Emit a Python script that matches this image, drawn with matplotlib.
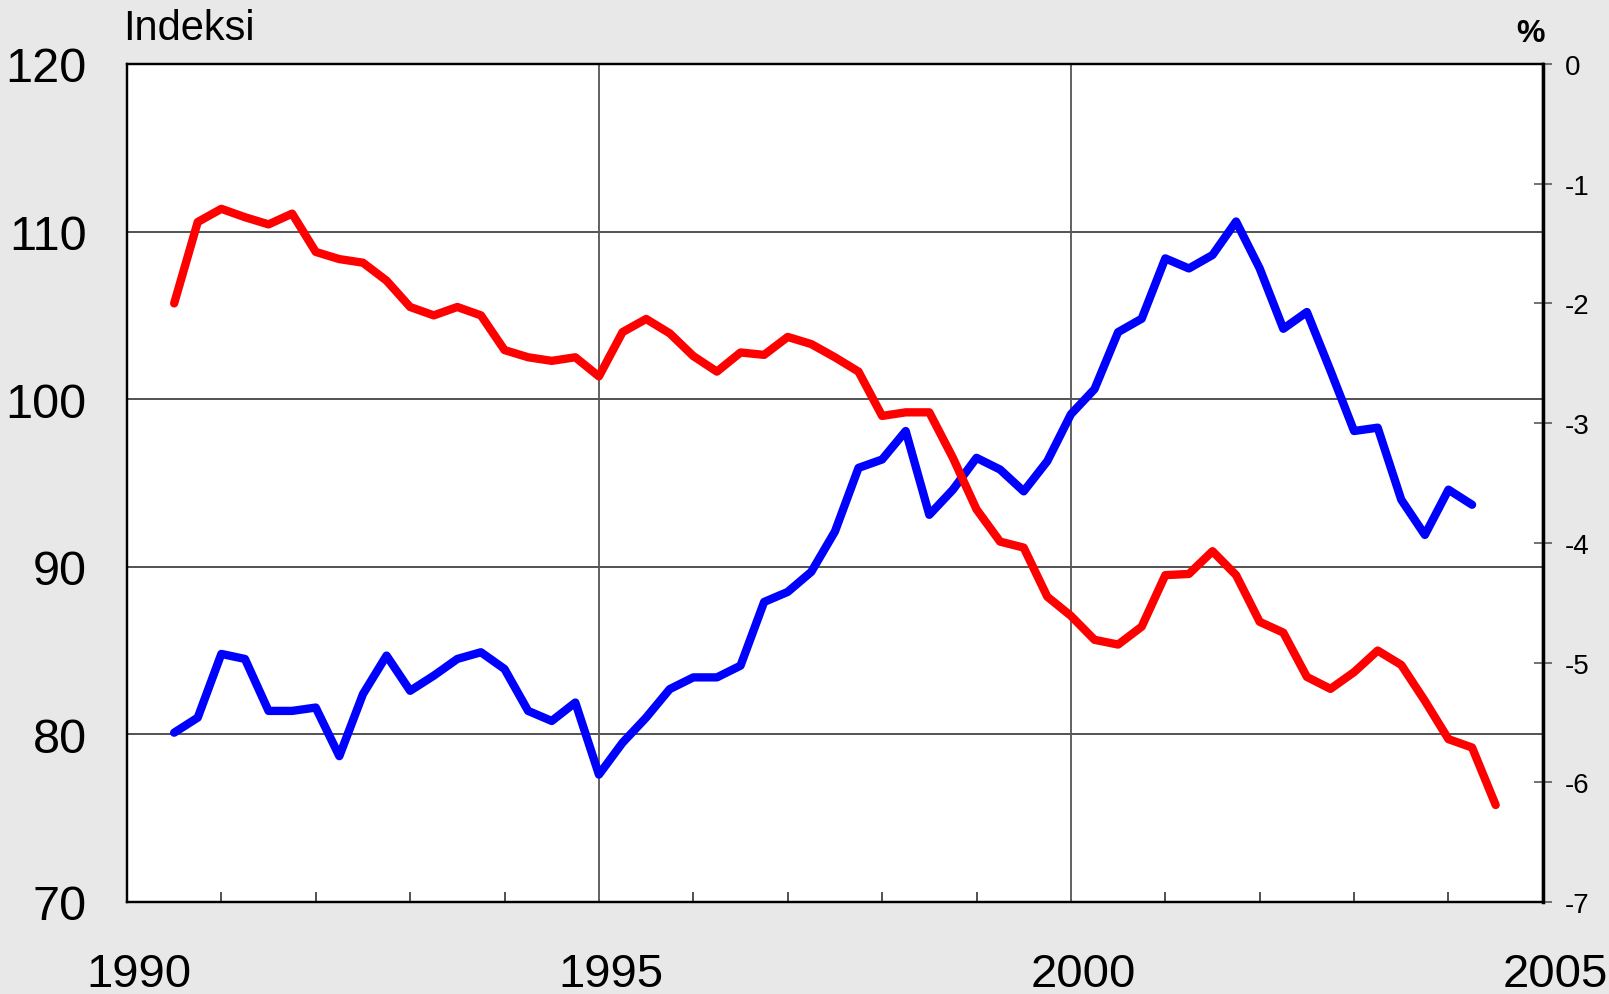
import matplotlib
matplotlib.use("Agg")
from matplotlib import pyplot as plt
from matplotlib.ticker import MultipleLocator
import matplotlib.transforms as mtransforms

# quarterly data, first point is mid 1990
start_year = 1990.5

# blue series, read on the left axis (Indeksi)
index_values = [80.1, 81.0, 84.8, 84.5, 81.4, 81.4, 81.6, 78.7, 82.4, 84.7,
                82.6, 83.5, 84.5, 84.9, 83.9, 81.4, 80.8, 81.9, 77.6, 79.5,
                81.0, 82.7, 83.4, 83.4, 84.1, 87.9, 88.5, 89.7, 92.1, 95.9,
                96.4, 98.1, 93.1, 94.6, 96.5, 95.8, 94.5, 96.3, 99.1, 100.6,
                104.0, 104.8, 108.4, 107.8, 108.6, 110.6, 107.8, 104.2, 105.2, 101.7,
                98.1, 98.3, 94.0, 91.9, 94.6, 93.7]

# red series, read on the right axis (%)
percent_values = [-2.00, -1.32, -1.21, -1.28, -1.34, -1.25, -1.57, -1.63, -1.66, -1.81,
                  -2.03, -2.10, -2.03, -2.10, -2.39, -2.45, -2.48, -2.45, -2.61, -2.24,
                  -2.13, -2.25, -2.44, -2.57, -2.41, -2.43, -2.28, -2.34, -2.45, -2.57,
                  -2.94, -2.91, -2.91, -3.29, -3.72, -3.99, -4.04, -4.45, -4.61, -4.81,
                  -4.85, -4.70, -4.27, -4.26, -4.07, -4.27, -4.66, -4.75, -5.12, -5.22,
                  -5.08, -4.90, -5.02, -5.32, -5.64, -5.71, -6.19]

left_ticks = [70, 80, 90, 100, 110, 120]
right_ticks = [0, -1, -2, -3, -4, -5, -6, -7]
year_ticks = [1990, 1995, 2000, 2005]


def quarters(values):
    return [start_year + 0.25 * i for i in range(len(values))]


plt.rcParams['font.family'] = ['Liberation Sans', 'DejaVu Sans']

fig = plt.figure(figsize=(16.09, 9.95), dpi=100, facecolor='#e8e8e8')
ax = fig.add_axes([0.0789, 0.0925, 0.880, 0.8422])
ax.set_facecolor('white')

ax.set_xlim(1990, 2005)
ax.set_ylim(70, 120)
ax.set_yticks(left_ticks)
ax.set_xticks(year_ticks)
ax.xaxis.set_minor_locator(MultipleLocator(1))

# grid: horizontal from the left scale, vertical at 1995 and 2000
for v in left_ticks[1:-1]:
    ax.axhline(v, color='#444444', lw=1.3, zorder=1)
for y in year_ticks[1:-1]:
    ax.axvline(y, color='#555555', lw=1.3, zorder=1)

ax.tick_params(axis='y', which='both', length=0, pad=29, labelsize=35)
ax.tick_params(axis='x', which='major', length=0, pad=36, labelsize=34)
ax.tick_params(axis='x', which='minor', direction='in', length=7, width=1.2, color='#333333')
offset = mtransforms.ScaledTranslation(12 / 100, 0, fig.dpi_scale_trans)
for lbl in ax.get_xticklabels():
    lbl.set_transform(lbl.get_transform() + offset)

ax.plot(quarters(index_values), index_values, color='#0000ff', lw=6,
        solid_capstyle='round', solid_joinstyle='round', zorder=3)

ax2 = ax.twinx()
ax2.set_ylim(-7, 0)
ax2.set_yticks(right_ticks)
ax2.set_yticklabels([str(t) for t in right_ticks])
ax2.tick_params(axis='y', direction='inout', length=13, width=1.3, color='#666666',
                pad=9, labelsize=20)
ax2.plot(quarters(percent_values), percent_values, color='#ff0000', lw=6,
         solid_capstyle='round', solid_joinstyle='round', zorder=3)

for a in (ax, ax2):
    for name, sp in a.spines.items():
        sp.set_color('black')
        sp.set_linewidth(1.6)
ax2.spines['right'].set_linewidth(2.5)

fig.text(0.0765, 0.9598, 'Indeksi', fontsize=30, ha='left', va='baseline')
fig.text(0.951, 0.9578, '%', fontsize=23, fontweight='bold', ha='center', va='baseline')

fig.savefig('out.png', dpi=100, facecolor=fig.get_facecolor())
